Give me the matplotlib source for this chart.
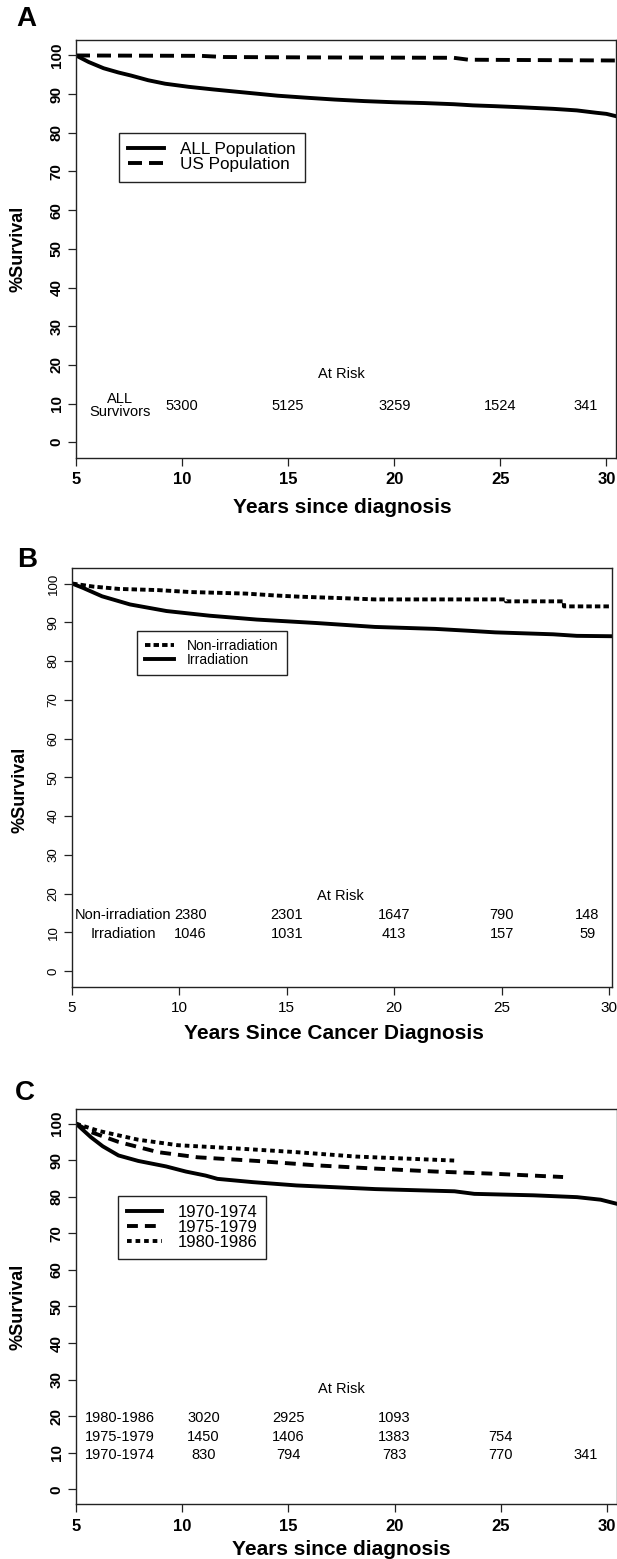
import matplotlib
matplotlib.use("Agg")
import matplotlib.pyplot as plt

plt.rcParams['font.family'] = ['Liberation Sans', 'DejaVu Sans']

# ---------------- data ----------------
# Panel A
a_all_t = [5, 5.6, 6.3, 7.0, 7.6, 8.4, 9.2, 10.3, 11.5, 13.0, 14.5, 15.8, 17.2, 18.6,
           20.0, 21.4, 22.8, 23.7, 24.7, 26.0, 27.5, 28.6, 29.5, 30.0, 30.45]
a_all_s = [100, 98.3, 96.7, 95.6, 94.8, 93.6, 92.7, 91.9, 91.2, 90.4, 89.6, 89.1, 88.6, 88.2,
           87.9, 87.7, 87.4, 87.1, 86.9, 86.6, 86.2, 85.8, 85.2, 84.9, 84.3]
a_us_t = [5, 8, 10.9, 12.0, 16, 22.8, 23.5, 27.0, 30.45]
a_us_s = [100, 99.95, 99.9, 99.6, 99.5, 99.4, 98.9, 98.8, 98.7]
a_legend = ["ALL Population", "US Population"]
a_risk_x = [10, 15, 20, 25, 29]
a_risk_n = ["5300", "5125", "3259", "1524", "341"]
a_risk_label = "ALL\nSurvivors"

# Panel B
b_non_t = [5, 6, 7.2, 9, 10.5, 13.1, 14.5, 15.6, 17.7, 19.1, 25.2, 25.2, 27.9, 27.9, 30.14]
b_non_s = [100, 99.2, 98.6, 98.3, 97.8, 97.4, 96.9, 96.6, 96.2, 95.9, 95.9, 95.4, 95.4, 94.1, 94.1]
b_irr_t = [5, 5.5, 6.4, 7.7, 9.4, 11.4, 13.6, 16.4, 19.1, 21.9, 23.5, 24.7, 27.4, 28.5, 30.14]
b_irr_s = [100, 98.9, 96.7, 94.6, 92.9, 91.7, 90.7, 89.8, 88.8, 88.3, 87.8, 87.4, 86.9, 86.5, 86.4]
b_legend = ["Non-irradiation", "Irradiation"]
b_risk_x = [10.5, 15, 20, 25, 29]
b_risk_non = ["2380", "2301", "1647", "790", "148"]
b_risk_irr = ["1046", "1031", "413", "157", "59"]

# Panel C
c70_t = [5, 5.7, 6.26, 7.0, 7.93, 9.24, 10.17, 11.1, 11.66, 13.33, 15.38, 17.24, 19.1,
         22.82, 23.75, 26.54, 28.59, 29.7, 30.45]
c70_s = [100, 96.3, 93.8, 91.3, 89.8, 88.3, 86.9, 85.8, 84.9, 84.0, 83.1, 82.6, 82.1,
         81.5, 80.8, 80.4, 79.9, 79.2, 78.1]
c75_t = [5, 5.7, 7.0, 8.86, 10.72, 13.5, 16.3, 19.1, 21.9, 24.68, 27.93]
c75_s = [100, 97.7, 95.0, 92.2, 90.8, 89.8, 88.6, 87.7, 86.9, 86.3, 85.4]
c80_t = [5, 6.07, 7.93, 9.8, 12.6, 15.38, 18.17, 22.82]
c80_s = [100, 98.0, 95.6, 94.1, 93.2, 92.2, 91.0, 89.9]
c_legend = ["1970-1974", "1975-1979", "1980-1986"]
c_risk_x = [11, 15, 20, 25, 29]
c_risk_80 = ["3020", "2925", "1093"]
c_risk_75 = ["1450", "1406", "1383", "754"]
c_risk_70 = ["830", "794", "783", "770", "341"]

yticks = [0, 10, 20, 30, 40, 50, 60, 70, 80, 90, 100]
xticks = [5, 10, 15, 20, 25, 30]

# ---------------- figure ----------------
W, H = 617, 1559
fig = plt.figure(figsize=(W / 100, H / 100), dpi=100)


def axes_px(left, top, right, bottom):
    return fig.add_axes([left / W, 1 - bottom / H, (right - left) / W, (bottom - top) / H])


LW = 2.8


def style_axes(ax, xmax, bold, xfs, yfs):
    ax.set_xlim(5, xmax)
    ax.set_ylim(-4, 104)
    ax.set_xticks(xticks)
    ax.set_yticks(yticks)
    for s in ax.spines.values():
        s.set_linewidth(1.0)
        s.set_color('#222222')
    ax.tick_params(axis='both', direction='out', length=5.5, width=0.9, color='#222222')
    ax.tick_params(axis='x', pad=5, labelsize=xfs)
    ax.tick_params(axis='y', pad=3.5, labelsize=yfs)
    fw = 'bold' if bold else 'normal'
    for lbl in ax.get_xticklabels():
        lbl.set_fontweight(fw)
    for lbl in ax.get_yticklabels():
        lbl.set_fontweight(fw)
        lbl.set_rotation(90)
        lbl.set_va('center')


def legend(ax, handles, labels, x, y, fs, spacing, pad):
    lg = ax.legend(handles, labels, loc='upper left', bbox_to_anchor=(x, y),
                   bbox_transform=ax.transAxes, borderaxespad=0, fontsize=fs,
                   frameon=True, fancybox=False, framealpha=1, edgecolor='#222222',
                   handlelength=2.1, handletextpad=0.9, labelspacing=spacing,
                   borderpad=pad)
    lg.get_frame().set_linewidth(1.0)
    return lg


# ---------- Panel A ----------
axA = axes_px(76, 40, 616, 457.7)
l1, = axA.plot(a_all_t, a_all_s, color='black', lw=LW, solid_joinstyle='round')
l2, = axA.plot(a_us_t, a_us_s, color='black', lw=LW, linestyle=(0, (3.6, 1.8)))
style_axes(axA, 30.45, True, 12, 11)
legend(axA, [l1, l2], a_legend, 0.0796, 0.778, 12.3, 0.0, 0.55)
axA.text(7.07, 9.5, a_risk_label, ha='center', va='center', fontsize=10.5, linespacing=0.95)
for x, n in zip(a_risk_x, a_risk_n):
    axA.text(x, 9.4, n, ha='center', va='center', fontsize=10.5)
axA.text(17.5, 17.6, "At Risk", ha='center', va='center', fontsize=10.5)
axA.set_xlabel("Years since diagnosis", fontsize=15, fontweight='bold', va='center')
axA.xaxis.set_label_coords(0.493, -0.120)
axA.set_ylabel("%Survival", fontsize=13, fontweight='bold', va='center')
axA.yaxis.set_label_coords(-0.107, 0.5)

# ---------- Panel B ----------
axB = axes_px(72, 568, 612, 986.7)
m1, = axB.plot(b_non_t, b_non_s, color='black', lw=LW, linestyle=(0, (1.4, 0.8)))
m2, = axB.plot(b_irr_t, b_irr_s, color='black', lw=LW, solid_joinstyle='round')
style_axes(axB, 30.14, False, 11, 9.5)
legend(axB, [m1, m2], b_legend, 0.120, 0.850, 10, 0.0, 0.6)
axB.text(7.37, 14.5, "Non-irradiation", ha='center', va='center', fontsize=10.5)
axB.text(7.37, 9.55, "Irradiation", ha='center', va='center', fontsize=10.5)
for x, n in zip(b_risk_x, b_risk_non):
    axB.text(x, 14.5, n, ha='center', va='center', fontsize=10.5)
for x, n in zip(b_risk_x, b_risk_irr):
    axB.text(x, 9.55, n, ha='center', va='center', fontsize=10.5)
axB.text(17.5, 19.3, "At Risk", ha='center', va='center', fontsize=10.5)
axB.set_xlabel("Years Since Cancer Diagnosis", fontsize=15, fontweight='bold', va='center')
axB.xaxis.set_label_coords(0.485, -0.1106)
axB.set_ylabel("%Survival", fontsize=13, fontweight='bold', va='center')
axB.yaxis.set_label_coords(-0.096, 0.47)

# ---------- Panel C ----------
axC = axes_px(76, 1109, 616.6, 1504)
n1, = axC.plot(c70_t, c70_s, color='black', lw=LW, solid_joinstyle='round')
n2, = axC.plot(c75_t, c75_s, color='black', lw=LW, linestyle=(0, (2.8, 1.8)))
n3, = axC.plot(c80_t, c80_s, color='black', lw=LW, linestyle=(0, (1.2, 1.0)))
style_axes(axC, 30.45, True, 12, 11)
legend(axC, [n1, n2, n3], c_legend, 0.078, 0.7805, 12, 0.0, 0.55)
rows = [(19.5, "1980-1986", c_risk_80), (14.3, "1975-1979", c_risk_75), (9.4, "1970-1974", c_risk_70)]
for y, lab, vals in rows:
    axC.text(7.06, y, lab, ha='center', va='center', fontsize=10.5)
    for x, n in zip(c_risk_x, vals):
        axC.text(x, y, n, ha='center', va='center', fontsize=10.5)
axC.text(17.5, 27.4, "At Risk", ha='center', va='center', fontsize=10.5)
axC.set_xlabel("Years since diagnosis", fontsize=15, fontweight='bold', va='center')
axC.xaxis.set_label_coords(0.491, -0.114)
axC.set_ylabel("%Survival", fontsize=13, fontweight='bold', va='center')
axC.yaxis.set_label_coords(-0.107, 0.5)

# panel letters
for letter, (px, py) in zip("ABC", [(26, 19), (27.5, 560), (25, 1092.5)]):
    fig.text(px / W, 1 - py / H, letter, ha='center', va='center', fontsize=20, fontweight='bold')

fig.savefig("out.png", dpi=100)
